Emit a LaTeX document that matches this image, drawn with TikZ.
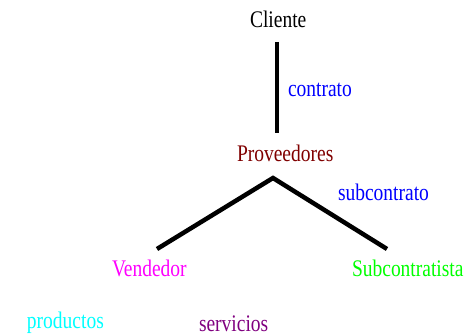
\documentclass[tikz,border=0pt]{standalone}
\usepackage{fontspec}
\setmainfont{Liberation Serif}
\definecolor{cblue}{RGB}{0,0,255}
\definecolor{cprov}{RGB}{128,0,0}
\definecolor{cmag}{RGB}{255,0,255}
\definecolor{cgreen}{RGB}{0,255,0}
\definecolor{ccyan}{RGB}{0,255,255}
\definecolor{cpurple}{RGB}{128,0,128}
\newcommand{\lbltext}[1]{\scalebox{1}[1.22]{\fontsize{19.5}{23}\selectfont #1}}
\tikzset{
  lbl/.style={anchor=base west, inner sep=0pt, outer sep=0pt},
  link/.style={line width=4.5pt, black}
}
\begin{document}
\begin{tikzpicture}[x=1pt,y=-1pt]
\useasboundingbox (0,0) rectangle (467,336);
\node[lbl] (cliente) at (250,28) {\lbltext{Cliente}};
\node[lbl, text=cblue] (contrato) at (288,97) {\lbltext{contrato}};
\node[lbl, text=cprov] (prov) at (237,162) {\lbltext{Proveedores}};
\node[lbl, text=cblue] (subcontrato) at (338,201) {\lbltext{subcontrato}};
\node[lbl, text=cmag] (vend) at (112,277) {\lbltext{Vendedor}};
\node[lbl, text=cgreen] (subc) at (352,277) {\lbltext{Subcontratista}};
\node[lbl, text=ccyan] (productos) at (27,329) {\lbltext{productos}};
\node[lbl, text=cpurple] (servicios) at (199,332) {\lbltext{servicios}};
\coordinate (ctop) at (277,42);
\coordinate (cbot) at (277,133);
\coordinate (apex) at (273,178);
\coordinate (lend) at (157,249);
\coordinate (rend) at (387,249);
\draw[link] (ctop) -- (cbot);
\draw[link] (lend) -- (apex) -- (rend);
\end{tikzpicture}
\end{document}
